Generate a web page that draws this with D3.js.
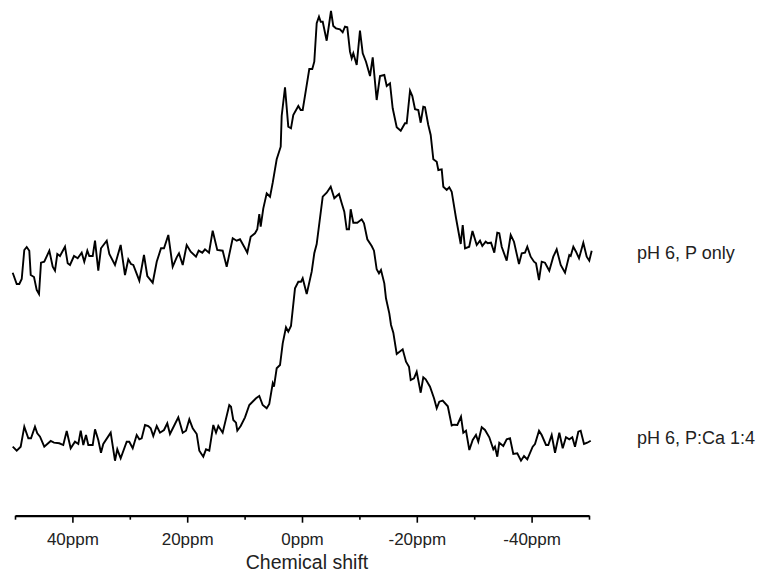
<!DOCTYPE html>
<html><head><meta charset="utf-8">
<script src="https://cdn.jsdelivr.net/npm/d3@7"></script>
<style>body{margin:0;background:#fff}svg{display:block}</style>
</head><body><svg id="c" width="764" height="575"></svg>
<script>
// ---- data ----
const seriesNames = ["pH 6, P only", "pH 6, P:Ca 1:4"];
const seriesOffsets = [185, 0];

const ppmPOnly = [50.40,49.70,49.25,48.83,48.38,47.96,47.51,47.26,46.69,46.22,45.82,45.47,44.90,44.02,43.43,43.03,42.63,42.16,41.29,40.82,40.42,39.72,39.08,38.38,37.93,37.40,37.06,36.46,36.06,35.49,35.02,34.02,33.57,32.58,31.59,30.84,30.26,29.79,29.39,28.34,27.53,26.95,26.01,25.31,24.56,24.04,23.29,22.53,21.83,21.43,20.78,20.09,19.39,18.47,18.00,17.37,16.90,16.20,15.56,14.76,13.82,13.12,12.07,11.38,10.80,9.93,9.53,8.94,8.19,7.79,7.44,7.20,6.74,6.15,5.57,5.10,4.41,3.71,3.54,2.96,2.39,1.92,1.52,0.64,0.23,-0.12,-0.70,-1.27,-1.79,-2.14,-2.56,-2.96,-3.26,-3.61,-4.30,-4.70,-5.05,-5.45,-5.92,-6.62,-7.09,-7.49,-7.89,-8.36,-8.66,-8.94,-9.53,-10.10,-10.58,-11.15,-11.85,-12.32,-13.01,-13.59,-14.34,-14.76,-15.33,-15.80,-16.50,-17.20,-17.94,-18.24,-18.82,-19.22,-19.69,-20.26,-20.68,-21.13,-21.43,-22.00,-22.42,-22.88,-23.47,-23.75,-24.34,-24.62,-25.21,-25.66,-26.08,-26.83,-27.65,-28.00,-28.40,-29.13,-29.70,-30.44,-31.01,-31.41,-32.00,-32.35,-32.93,-33.50,-34.02,-34.37,-34.79,-35.66,-36.36,-36.93,-37.80,-38.28,-38.85,-39.25,-39.84,-40.42,-40.77,-41.29,-41.76,-42.33,-43.08,-43.78,-44.37,-45.07,-45.82,-46.57,-46.81,-47.27,-47.74,-48.26,-49.01,-49.60,-50.05,-50.47];
const intensityPOnly = [-17.7,-29,-29,-24,5,8,4.3,-20,-22,-35,-39,-7.7,-6.7,4.3,-11.7,-15.7,1,-1,8.3,-8.3,-10,-1,-3.3,2.3,-6.7,4.3,-1,-1,14.3,-15.7,6.7,14.3,1,-10,10,-20,-4.3,-9,-10,-25.7,0,-21,-27.7,-6.7,6.7,6.7,20,-11.7,-2.3,1.7,-10,10,3.3,-1.7,4.3,2.3,5.7,2.3,24.3,5,4.3,-11.7,16.7,14.3,15.7,6.7,2.3,18.3,21.7,25.7,41,28.3,46.7,61.7,58.3,72.3,95.7,108.3,139,167.7,128.3,126.7,140,149,145,145,165.7,186,186,193.3,231.7,238.3,233.3,233.3,214.3,230,244,229,226.7,225.7,222.7,228.3,227.7,203.3,196.7,201.7,190,224.3,201.7,193.3,179,197.7,155,179,180,169,171.7,146.7,127.7,124.3,131.7,131.7,164.3,159,145.7,145,132.3,148.3,147.7,130,120,95.7,93.3,85,85.7,68.3,65,67.7,63.3,37,11,30,6.7,8.3,24,10,14.3,9,13.3,11.7,12.3,2.3,22.3,21.7,8.3,-5.7,20,13.3,-9,1.7,2.3,8.3,-1.7,-6.7,-8.3,-25,-6.7,-7.7,-15.7,-1.7,5.7,-10,-17.7,0,-1,8.3,3.3,-3.3,12.3,-1.7,-5.7,4.3];

const ppmPCa = [50.40,49.70,49.01,48.38,47.68,47.21,46.52,46.12,45.64,44.90,43.78,43.21,42.28,41.59,40.99,40.30,39.55,38.97,38.55,38.10,37.63,37.23,36.46,36.06,35.49,35.02,34.62,33.33,32.58,32.18,31.59,30.54,30.09,29.49,28.80,28.34,27.93,27.35,26.78,26.36,25.91,25.31,24.74,24.04,23.47,23.00,22.13,21.55,20.78,20.21,19.63,19.04,18.34,17.89,17.20,16.72,16.15,15.45,14.98,14.58,13.82,12.67,12.37,11.97,11.50,11.27,10.68,9.93,9.18,8.01,7.44,6.85,6.15,5.70,5.10,4.88,4.41,3.83,3.36,2.79,2.39,1.92,1.22,0.64,0.17,-0.12,-0.82,-1.69,-2.14,-2.56,-3.61,-4.30,-5.00,-5.63,-6.05,-6.45,-6.92,-7.37,-7.79,-8.19,-8.48,-8.94,-9.63,-10.40,-10.80,-11.38,-12.14,-12.54,-13.01,-13.41,-13.76,-14.34,-14.63,-15.21,-15.51,-15.91,-16.50,-17.54,-18.12,-18.64,-18.94,-19.51,-19.98,-20.68,-21.13,-21.55,-22.30,-23.00,-23.47,-23.92,-24.51,-25.40,-26.08,-26.48,-27.06,-27.70,-28.10,-28.57,-29.15,-29.74,-30.31,-30.71,-31.31,-31.88,-32.63,-33.33,-33.62,-34.02,-34.37,-35.07,-35.66,-36.24,-36.81,-37.51,-38.15,-38.68,-39.25,-40.19,-40.59,-41.29,-41.76,-42.51,-42.91,-43.50,-44.08,-44.83,-45.42,-45.99,-46.57,-47.09,-47.56,-48.14,-48.55,-49.13,-49.70,-50.30];
const intensityPCa = [-6.7,-10.7,-6.7,13.3,1.7,1.7,13.3,6.7,3.3,-6.7,-1,-2.7,-3.3,-5,9,-8.3,-1.7,-4,9.3,-5,5,-5,-5,10.7,0,-12.7,-4,7.3,-20.7,-9.3,-18.3,-1.7,-1.7,-8.3,5,0.7,1.7,15,14,11.7,4,14,7.3,10,16.7,6,16,22.7,7.3,9.3,20.7,11.7,6,-10.7,-16.7,-9.3,-10.7,15,7.3,14,7.3,35,33.3,20,17.3,9.3,14,22.7,35,41.7,44,35,31.7,36,56.7,53.3,71.7,75,96.7,112.7,108.3,114,151.7,158.3,158.3,161.7,146,168.3,186.7,196,243.3,247.3,253.3,241.7,244,246,236.7,228.3,210.7,210.7,230.7,217.3,217.3,220.7,216.7,200.7,194,189.3,170.7,166.7,170,156.7,141.7,126.7,115,107.3,86,90.7,78.3,73.3,60,61.7,68.3,47.3,62.7,60.7,53.3,41.7,31.7,38.3,39.5,33.7,14.5,15.3,15,23.3,7.3,9.3,-10,0,5,-1.7,12.7,10,2.7,-9.3,-6.7,-16.7,-2.7,-6,0.7,1.7,-14,-13.3,-20.7,-16,-19.3,-6.7,-4,9.3,5,-5,-5,5,-12.7,7.3,-8.3,2.7,0.7,2.7,-6.7,8.3,9.3,-4,-2.7,-0.7];

const majorTicks = [40, 20, 0, -20, -40];
const majorTickLabels = ["40ppm", "20ppm", "0ppm", "-20ppm", "-40ppm"];
const minorTicks = [50, 30, 10, -10, -30, -50];
const xTitle = "Chemical shift";

// ---- drawing ----
const svg = d3.select("#c");
const font = "'Liberation Sans', Arial, Helvetica, sans-serif";

const x = d3.scaleLinear().domain([50, -50]).range([15, 589]);
const y = d3.scaleLinear().domain([-80, 440]).range([520, 0]);

const series = [
  {name: seriesNames[0], off: seriesOffsets[0], pts: ppmPOnly.map((p, i) => [p, intensityPOnly[i]])},
  {name: seriesNames[1], off: seriesOffsets[1], pts: ppmPCa.map((p, i) => [p, intensityPCa[i]])}
];

const line = d3.line().x(d => x(d[0])).y(d => y(d[1]));

series.forEach(s => {
  svg.append("path")
    .attr("d", line(s.pts.map(d => [d[0], d[1] + s.off])))
    .attr("fill", "none")
    .attr("stroke", "#000")
    .attr("stroke-width", 1.9)
    .attr("stroke-linejoin", "miter");
  svg.append("text")
    .attr("x", 637)
    .attr("y", y(s.off) + 3.5)
    .attr("font-family", font)
    .attr("font-size", 18)
    .attr("fill", "#222")
    .text(s.name);
});

const axisY = 515.7;
const gx = svg.append("g").attr("transform", `translate(0,${axisY})`);
const axMajor = d3.axisBottom(x).tickValues(majorTicks)
  .tickFormat((d, i) => majorTickLabels[i]).tickSize(7).tickSizeOuter(0).tickPadding(10);
gx.call(axMajor);
gx.select(".domain").attr("stroke", "#000").attr("stroke-width", 2.2);
gx.selectAll(".tick line").attr("stroke", "#000").attr("stroke-width", 1.6);
gx.selectAll(".tick text").attr("font-family", font).attr("font-size", 17).attr("fill", "#222");

const gm = svg.append("g").attr("transform", `translate(0,${axisY})`);
gm.call(d3.axisBottom(x).tickValues(minorTicks).tickFormat("").tickSize(4).tickSizeOuter(0));
gm.select(".domain").remove();
gm.selectAll(".tick line").attr("stroke", "#000").attr("stroke-width", 1.6);

svg.append("text")
  .attr("x", x(0) + 5)
  .attr("y", 569)
  .attr("text-anchor", "middle")
  .attr("font-family", font)
  .attr("font-size", 19.5)
  .attr("fill", "#222")
  .text(xTitle);
</script></body></html>
